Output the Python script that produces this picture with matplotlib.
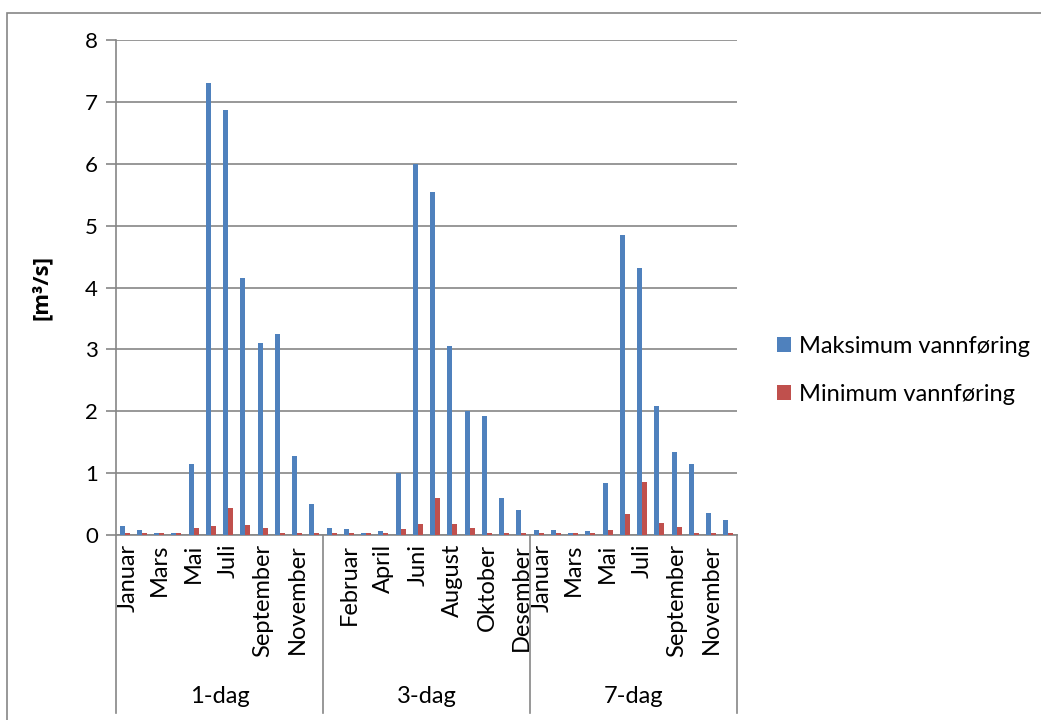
import numpy as np
import matplotlib
matplotlib.use("Agg")
import matplotlib.pyplot as plt
from matplotlib.patches import Rectangle

plt.rcParams['font.family'] = ['Lato', 'DejaVu Sans']

months = ["Januar", "Februar", "Mars", "April", "Mai", "Juni", "Juli",
          "August", "September", "Oktober", "November", "Desember"]
groups = ["1-dag", "3-dag", "7-dag"]

# maximum flow per month, m3/s
max_1dag = [0.14, 0.085, 0.03, 0.03, 1.14, 7.31, 6.87, 4.16, 3.10, 3.25, 1.28, 0.50]
max_3dag = [0.11, 0.10, 0.03, 0.06, 1.01, 6.00, 5.55, 3.05, 2.00, 1.93, 0.59, 0.40]
max_7dag = [0.085, 0.085, 0.03, 0.065, 0.84, 4.85, 4.32, 2.09, 1.34, 1.14, 0.36, 0.25]

# minimum flow per month, m3/s
min_1dag = [0.03, 0.03, 0.03, 0.03, 0.12, 0.14, 0.43, 0.16, 0.12, 0.03, 0.03, 0.03]
min_3dag = [0.03, 0.03, 0.03, 0.03, 0.09, 0.17, 0.59, 0.17, 0.12, 0.03, 0.03, 0.03]
min_7dag = [0.03, 0.03, 0.03, 0.03, 0.085, 0.34, 0.85, 0.20, 0.13, 0.03, 0.03, 0.03]

maks = max_1dag + max_3dag + max_7dag
mini = min_1dag + min_3dag + min_7dag
labels = months * 3
# only every second month gets a label; the middle group starts on Februar
shown = list(range(0, 12, 2)) + list(range(13, 24, 2)) + list(range(24, 36, 2))

blue = "#4F81BD"
red = "#C0504D"
grey = "#868686"
fs = 16

fig = plt.figure(figsize=(10.41, 7.2), dpi=100)
ax = fig.add_axes([116 / 1041, 1 - 535 / 720, (737 - 116) / 1041, 495 / 720])

# chart frame
fig.patches.append(Rectangle((7 / 1041, -0.1), 1.2, 1 - 13 / 720 + 0.1,
                             transform=fig.transFigure, fill=False,
                             edgecolor=grey, linewidth=1.2))

x = np.arange(len(maks))
w = 0.285
ax.bar(x - w / 2, maks, width=w, color=blue, label="Maksimum vannføring", zorder=3)
ax.bar(x + w / 2, mini, width=w, color=red, label="Minimum vannføring", zorder=3)

ax.set_xlim(-0.5, len(maks) - 0.5)
ax.set_ylim(0, 8)
ax.set_yticks(range(0, 9))
ax.tick_params(axis='y', length=7, width=1.2, color=grey, labelsize=fs, pad=6)
ax.grid(axis='y', color=grey, linewidth=1.2, zorder=0)

for side in ["top", "right"]:
    ax.spines[side].set_visible(False)
for side in ["left", "bottom"]:
    ax.spines[side].set_color(grey)
    ax.spines[side].set_linewidth(1.2)

ax.set_ylabel("[m³/s]", fontsize=fs, fontweight='bold', labelpad=24,
              family=['Open Sans', 'DejaVu Sans'])

trans = ax.get_xaxis_transform()

# month labels; a label at the start of a group is pushed inside its group
ax.set_xticks([])
for i in shown:
    if i % 12 == 0:
        ax.text(i - 0.42, -0.018, labels[i], rotation=90, ha='left', va='top',
                fontsize=fs + 1, transform=trans)
    else:
        ax.text(x[i], -0.018, labels[i], rotation=90, ha='center', va='top',
                fontsize=fs + 1, transform=trans)

# group dividers and group labels
for b in [-0.5, 11.5, 23.5, 35.5]:
    ax.plot([b, b], [0, -0.36], color=grey, linewidth=1.2,
            transform=trans, clip_on=False)
for k, g in enumerate(groups):
    ax.text(k * 12 + 5.5, -0.327, g, ha='center', va='center',
            fontsize=fs + 1, transform=trans)

ax.legend(loc='center left', bbox_to_anchor=(1.03, 0.333), frameon=False,
          fontsize=fs + 1, handlelength=0.6, handleheight=0.6,
          handletextpad=0.35, labelspacing=1.15)

fig.savefig("out.png", dpi=100)
